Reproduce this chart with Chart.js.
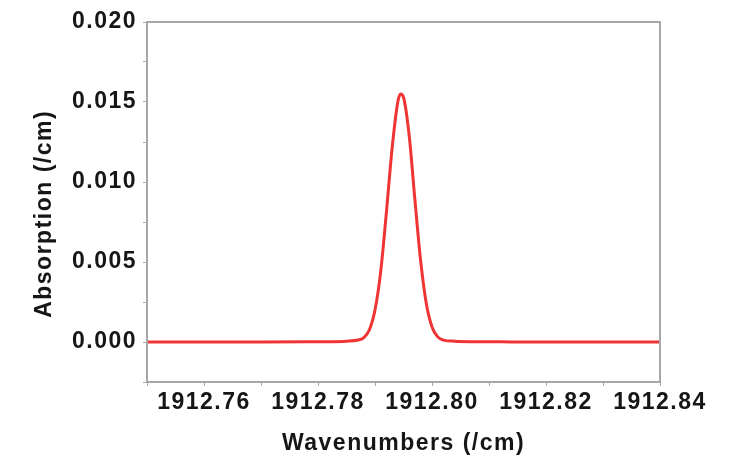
<!DOCTYPE html>
<html>
<head>
<meta charset="utf-8">
<script src="https://cdn.jsdelivr.net/npm/chart.js@4/dist/chart.umd.min.js"></script>
<style>
    html, body { margin: 0; padding: 0; background: #fff; }
    #wrap { width: 733px; height: 464px; }
</style>
</head>
<body>
<div id="wrap"><canvas id="chart"></canvas></div>
<script>

// Values
const wavenumbers = [
    1912.750, 1912.760, 1912.770, 1912.778, 1912.782, 1912.785, 1912.787,
    1912.788, 1912.789, 1912.790, 1912.791, 1912.792, 1912.793, 1912.794,
    1912.7945, 1912.795, 1912.796, 1912.797, 1912.798, 1912.799, 1912.800,
    1912.801, 1912.802, 1912.804, 1912.807, 1912.812, 1912.820, 1912.830, 1912.840
];

const absorption = [
    0.00000, 0.00000, 0.00000, 0.00001, 0.00002, 0.00005, 0.00012,
    0.00026, 0.00075, 0.00200, 0.00440, 0.00810, 0.01210, 0.01500,
    0.01550, 0.01530, 0.01290, 0.00890, 0.00510, 0.00240, 0.00094,
    0.00032, 0.00012, 0.00005, 0.00002, 0.00001, 0.00000, 0.00000, 0.00000
];

const xTicks = [ 1912.76, 1912.78, 1912.80, 1912.82, 1912.84 ];
const yTicks = [ 0.000, 0.005, 0.010, 0.015, 0.020 ];

const font = { family: '"Liberation Sans", Arial, sans-serif', size: 23, weight: 'bold' };
const textColor = '#161616';
const axisColor = '#a8a8a8';

// The reference lettering is set wide, so space the glyphs a little
const spacing = {
    id: 'spacing',
    beforeUpdate ( chart ) { chart.ctx.letterSpacing = '1.5px'; },
    beforeDraw ( chart ) { chart.ctx.letterSpacing = '1.5px'; }
};

// Draws the closed frame round the plot area
const frame = {
    id: 'frame',
    afterDraw ( chart ) {
        const { ctx, chartArea: a } = chart;
        ctx.save();
        ctx.strokeStyle = axisColor;
        ctx.lineWidth = 2;
        ctx.strokeRect( a.left, a.top, a.right - a.left, a.bottom - a.top );
        ctx.restore();
    }
};

const isMajor = ( v, list ) => list.some( t => Math.abs( t - v ) < 1e-6 );

new Chart( document.getElementById( 'chart' ), {
    type: 'line',
    data: {
        datasets: [ {
            data: wavenumbers.map( ( x, i ) => ( { x, y: absorption[ i ] } ) ),
            borderColor: '#ef3434',
            borderWidth: 3,
            pointRadius: 0,
            cubicInterpolationMode: 'monotone',
            fill: false
        } ]
    },
    options: {
        responsive: true,
        maintainAspectRatio: false,
        animation: false,
        layout: { padding: { top: 22, right: 73, left: 0, bottom: 0 } },
        plugins: { legend: { display: false }, tooltip: { enabled: false } },
        scales: {
            x: {
                type: 'linear',
                min: 1912.75,
                max: 1912.84,
                afterFit: axis => { axis.height = 82; },
                afterBuildTicks: axis => {
                    axis.ticks = [];
                    for ( let i = 0; i <= 9; ++i ) axis.ticks.push( { value: 1912.75 + i * 0.01 } );
                },
                border: { display: true, color: axisColor, width: 2 },
                grid: { drawOnChartArea: false, drawTicks: true, tickLength: 4, color: axisColor },
                ticks: {
                    color: textColor,
                    font,
                    padding: 3,
                    maxRotation: 0,
                    autoSkip: false,
                    callback: v => isMajor( v, xTicks ) ? v.toFixed( 2 ) : ''
                },
                title: {
                    display: true,
                    text: 'Wavenumbers (/cm)',
                    color: textColor,
                    font,
                    padding: { top: 0, bottom: 7 }
                }
            },
            y: {
                min: -0.0025,
                max: 0.020,
                afterFit: axis => { axis.width = 147; },
                afterBuildTicks: axis => {
                    axis.ticks = [];
                    for ( let i = 0; i <= 9; ++i ) axis.ticks.push( { value: -0.0025 + i * 0.0025 } );
                },
                border: { display: true, color: axisColor, width: 2 },
                grid: { drawOnChartArea: false, drawTicks: true, tickLength: 4, color: axisColor },
                ticks: {
                    color: textColor,
                    font,
                    padding: 6,
                    autoSkip: false,
                    callback: v => isMajor( v, yTicks ) ? v.toFixed( 3 ) : ''
                },
                title: {
                    display: true,
                    text: 'Absorption (/cm)   ',
                    color: textColor,
                    font,
                    padding: { top: 31, bottom: 0 }
                }
            }
        }
    },
    plugins: [ spacing, frame ]
} );

</script>
</body>
</html>
